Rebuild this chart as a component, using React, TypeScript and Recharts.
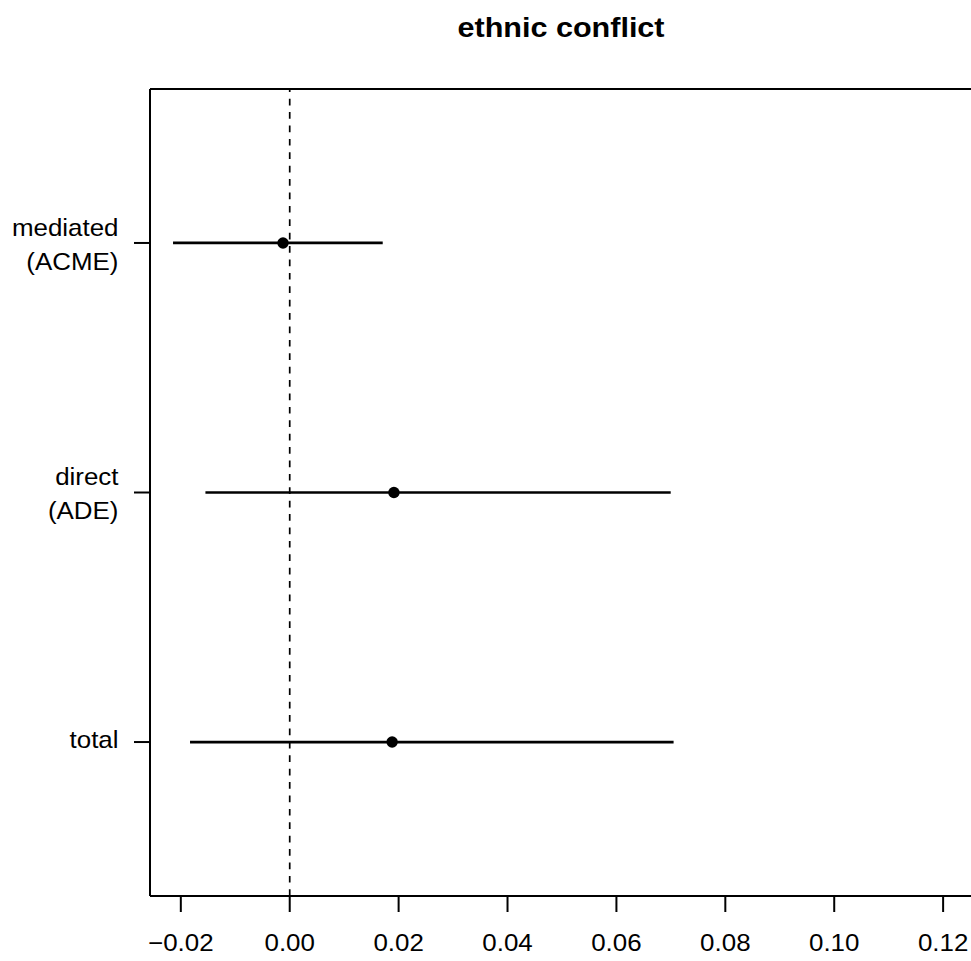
import React from "react";
import {
  ComposedChart,
  XAxis,
  YAxis,
  Scatter,
  ReferenceLine,
} from "recharts";

// Effect estimates with 95% intervals, bottom to top
const effectLabels = [["total"], ["direct", "(ADE)"], ["mediated", "(ACME)"]];
const positions = [1, 2, 3];
const estimates = [0.01881, 0.01914, -0.00123];
const lowerBounds = [-0.01831, -0.01548, -0.02143];
const upperBounds = [0.0705, 0.06997, 0.01708];

const xTicks = [-0.02, 0, 0.02, 0.04, 0.06, 0.08, 0.1, 0.12];
const xDomain = [-0.02566, 0.12512];
const yDomain = [0.383, 3.617];

const TITLE = "ethnic conflict";
const FONT = "'Liberation Sans', Arial, Helvetica, sans-serif";
const STRETCH = 1.08;

const rows = positions.map((pos, i) => ({
  pos,
  est: estimates[i],
  lo: lowerBounds[i],
  hi: upperBounds[i],
  label: effectLabels[i],
}));

const formatTick = (v: number) => {
  const s = Math.abs(v).toFixed(2);
  return v < 0 ? "\u2212" + s : s;
};

const WideText = ({ x, y, anchor, size, bold, children }: any) => (
  <text
    transform={`translate(${x},${y}) scale(${STRETCH},1)`}
    x={0}
    y={0}
    textAnchor={anchor}
    fontFamily={FONT}
    fontWeight={bold ? "bold" : "normal"}
    fontSize={size}
    fill="#000"
  >
    {children}
  </text>
);

const XTick = (props: any) => {
  const { x, y, payload } = props;
  return (
    <WideText x={x} y={y + 38.7} anchor="middle" size={24}>
      {formatTick(payload.value)}
    </WideText>
  );
};

const YTick = (props: any) => {
  const { x, y, payload } = props;
  const idx = positions.indexOf(payload.value);
  const lines = idx >= 0 ? effectLabels[idx] : [];
  const baselines = lines.length === 1 ? [y + 6] : [y - 7.4, y + 26.6];
  return (
    <g>
      {lines.map((t, i) => (
        <WideText key={t} x={x - 15.5} y={baselines[i]} anchor="end" size={24}>
          {t}
        </WideText>
      ))}
    </g>
  );
};

const Dot = (props: any) => (
  <circle cx={props.cx} cy={props.cy} r={5.7} fill="#000" />
);

export default function App() {
  return (
    <div
      style={{
        position: "absolute",
        left: 0,
        top: 0,
        width: 971,
        height: 961,
        background: "#fff",
        overflow: "hidden",
      }}
    >
      <svg
        width={971}
        height={60}
        style={{ position: "absolute", left: 0, top: 0 }}
      >
        <WideText x={561} y={36.7} anchor="middle" size={28.3} bold>
          {TITLE}
        </WideText>
      </svg>
      <ComposedChart
        width={971}
        height={961}
        data={rows}
        margin={{ top: 89, right: 0, bottom: 0, left: 0 }}
      >
        <XAxis
          type="number"
          dataKey="est"
          domain={xDomain}
          ticks={xTicks}
          allowDataOverflow
          height={65}
          axisLine={{ stroke: "#000", strokeWidth: 2 }}
          tickLine={{ stroke: "#000", strokeWidth: 2 }}
          tickSize={16}
          tickMargin={0}
          tick={<XTick />}
          interval={0}
        />
        <YAxis
          type="number"
          dataKey="pos"
          domain={yDomain}
          ticks={positions}
          allowDataOverflow
          width={150}
          axisLine={{ stroke: "#000", strokeWidth: 2 }}
          tickLine={{ stroke: "#000", strokeWidth: 2 }}
          tickSize={16}
          tickMargin={0}
          tick={<YTick />}
          interval={0}
        />
        {/* upper edge of the plot frame */}
        <ReferenceLine
          y={yDomain[1]}
          stroke="#000"
          strokeWidth={2}
          ifOverflow="visible"
        />
        <ReferenceLine
          x={0}
          stroke="#000"
          strokeWidth={1.7}
          strokeDasharray="6.7 6.7"
        />
        {rows.map((r) => (
          <ReferenceLine
            key={r.pos}
            segment={[
              { x: r.lo, y: r.pos },
              { x: r.hi, y: r.pos },
            ]}
            stroke="#000"
            strokeWidth={2.7}
          />
        ))}
        <Scatter
          dataKey="est"
          fill="#000"
          shape={<Dot />}
          isAnimationActive={false}
        />
      </ComposedChart>
    </div>
  );
}
